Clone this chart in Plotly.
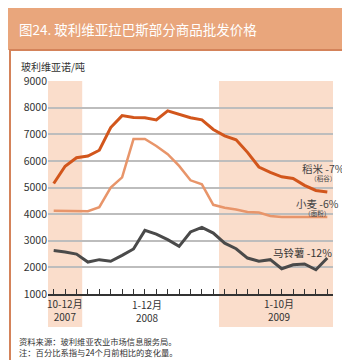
import plotly.graph_objects as go

# months Oct 2007 .. Oct 2009 (25 points)
months = list(range(25))

rice = [5150, 5800, 6120, 6180, 6400, 7250, 7700, 7630, 7620, 7540, 7880, 7750, 7620,
        7540, 7180, 6940, 6790, 6320, 5770, 5570, 5400, 5340, 5080, 4890, 4830]
wheat = [4130, 4120, 4110, 4110, 4260, 5000, 5380, 6820, 6820, 6560, 6250, 5810, 5270,
         5120, 4350, 4240, 4170, 4080, 4060, 3930, 3890, 3890, 3890, 3890, 3890]
potato = [2630, 2580, 2500, 2200, 2290, 2230, 2450, 2690, 3390, 3250, 3040, 2790, 3330,
          3500, 3290, 2910, 2700, 2350, 2230, 2290, 1950, 2100, 2130, 1910, 2350]

y_ticks = [1000, 2000, 3000, 4000, 5000, 6000, 7000, 8000, 9000]
period_labels = ["10-12月", "1-12月", "1-10月"]
period_years = ["2007", "2008", "2009"]
series_labels = ["稻米 -7%", "小麦 -6%", "马铃薯 -12%"]
series_notes = ["（稻谷）", "（面粉）"]

FONT = "Noto Sans CJK SC"
W, H = 350, 360
L, R, T, B = 40, 25, 73, 74
PW, PH = W - L - R, H - T - B


def px(x):
    return (x - L) / PW


def py(y):
    return (H - B - y) / PH


fig = go.Figure()
fig.add_trace(go.Scatter(x=months, y=wheat, mode="lines", line=dict(color="#E8956A", width=2.5)))
fig.add_trace(go.Scatter(x=months, y=rice, mode="lines", line=dict(color="#D2561C", width=3)))
fig.add_trace(go.Scatter(x=months, y=potato, mode="lines", line=dict(color="#4A4A4A", width=3)))

shapes = [
    # header band and frame
    dict(type="rect", xref="paper", yref="paper", x0=px(0), x1=px(W), y0=py(42), y1=py(0),
         fillcolor="#E9A67C", line=dict(width=0), layer="below"),
    dict(type="rect", xref="paper", yref="paper", x0=px(2), x1=px(348), y0=py(357), y1=py(42),
         fillcolor="rgba(0,0,0,0)", line=dict(color="#D4835A", width=2), layer="below"),
    # shaded periods
    dict(type="rect", xref="x", yref="paper", x0=-0.5, x1=2.5, y0=py(319), y1=1,
         fillcolor="#FADDCB", line=dict(width=0), layer="below"),
    dict(type="rect", xref="x", yref="paper", x0=14.5, x1=24.5, y0=py(319), y1=1,
         fillcolor="#FADDCB", line=dict(width=0), layer="below"),
]

ann = []
def text(x, y, s, size, color="#333333", anchor="left", align="left"):
    ann.append(dict(xref="paper", yref="paper", x=px(x), y=py(y), text=s, showarrow=False,
                    xanchor=anchor, yanchor="middle", align=align,
                    font=dict(family=FONT, size=size, color=color)))


def big(s, size):
    return f"<span style='font-size:{size}px'>{s}</span>"


text(9, 21, "图24. 玻利维亚拉巴斯部分商品批发价格", 13.5, color="white")
text(11, 59, "玻利维亚诺/吨", 10)

for cx, cy, lab, yr in [(57, 302, period_labels[0], period_years[0]),
                        (139, 303, period_labels[1], period_years[1]),
                        (271, 302, period_labels[2], period_years[2])]:
    text(cx, cy, lab + "<br>" + yr, 10, anchor="center", align="center")

text(315, 164, big(series_labels[0], 10.5) + "<br>" + series_notes[0], 6.5,
     color="#444444", anchor="center", align="center")
text(309, 199, big(series_labels[1], 10.5) + "<br>" + series_notes[1], 6.5,
     color="#444444", anchor="center", align="center")
text(326, 244, series_labels[2], 10.5, anchor="right")

text(9, 338, "资料来源：玻利维亚农业市场信息服务局。<br>注：百分比系指与24个月前相比的变化量。", 8.3)

fig.update_layout(
    width=W, height=H,
    margin=dict(l=L, r=R, t=T, b=B),
    paper_bgcolor="white",
    plot_bgcolor="rgba(0,0,0,0)",
    showlegend=False,
    shapes=shapes,
    annotations=ann,
    font=dict(family=FONT, size=10, color="#333333"),
    xaxis=dict(range=[-0.5, 24.5], showgrid=False, zeroline=False, showticklabels=False,
               tickvals=months, ticks="inside", ticklen=5, tickcolor="#333333", tickwidth=1,
               showline=True, linecolor="#333333", linewidth=1.5),
    yaxis=dict(range=[1000, 9000], tickvals=y_ticks, showgrid=True, gridcolor="#BDBDBD",
               gridwidth=1.5, zeroline=False, showline=False, ticks="",
               tickfont=dict(family=FONT, size=10.5, color="#333333")),
)

fig.write_html("out.html")
